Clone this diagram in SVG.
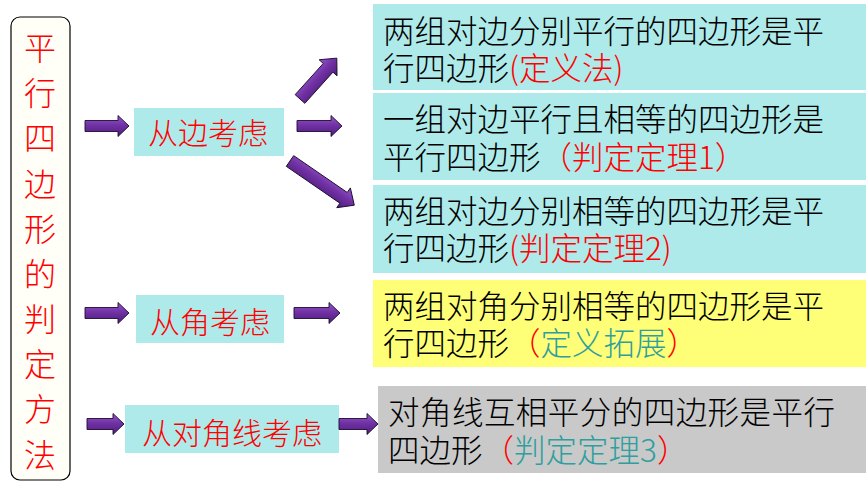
<svg xmlns="http://www.w3.org/2000/svg" width="866" height="494" viewBox="0 0 866 494">
<style>
  text { font-family: "Noto Sans CJK SC", "Noto Sans CJK JP", sans-serif; font-weight: 300; }
  .red { fill: #FF0000; }
  .teal { fill: #2E9E9E; }
  .side { font-size: 31.5px; fill: #000; }
  .side5 { font-size: 31.5px; fill: #000; }
  .lbl { font-size: 30px; fill: #FF0000; text-anchor: middle; }
  .title { font-size: 32px; fill: #FF0000; text-anchor: middle; }
  .cyan { fill: #AEEAEA; }
  .arrow { fill: url(#pg); stroke: #1e0b30; stroke-width: 0.9; }
</style>
<defs>
  <linearGradient id="pg" x1="0" y1="0" x2="0" y2="1">
    <stop offset="0" stop-color="#9358c8"/>
    <stop offset="0.45" stop-color="#7232a6"/>
    <stop offset="1" stop-color="#4c1c78"/>
  </linearGradient>
</defs>

<g id="title-box">
  <rect x="11" y="17" width="59" height="463" rx="9" fill="#FFFFF7" stroke="#000" stroke-width="1.2"/>
  <text class="title" x="40" y="60">平</text>
  <text class="title" x="40" y="105">行</text>
  <text class="title" x="40" y="150">四</text>
  <text class="title" x="40" y="196">边</text>
  <text class="title" x="40" y="241">形</text>
  <text class="title" x="40" y="286">的</text>
  <text class="title" x="40" y="331">判</text>
  <text class="title" x="40" y="376">定</text>
  <text class="title" x="40" y="421">方</text>
  <text class="title" x="40" y="467">法</text>
</g>

<g id="side-edge">
  <rect class="cyan" x="134" y="108" width="150" height="48"/>
  <text class="lbl" x="208" y="144">从边考虑</text>
</g>
<g id="side-angle">
  <rect class="cyan" x="136" y="295" width="148" height="48"/>
  <text class="lbl" x="210" y="333">从角考虑</text>
</g>
<g id="side-diag">
  <rect class="cyan" x="125" y="405" width="214" height="48"/>
  <text class="lbl" x="232" y="444">从对角线考虑</text>
</g>

<g id="rule-def">
  <rect class="cyan" x="373" y="4" width="493" height="86"/>
  <text class="side" x="383" y="43">两组对边分别平行的四边形是平</text>
  <text class="side" x="383" y="80">行四边形<tspan class="red">(定义法)</tspan></text>
</g>
<g id="rule-1">
  <rect class="cyan" x="373" y="93" width="493" height="87"/>
  <text class="side" x="383" y="131">一组对边平行且相等的四边形是</text>
  <text class="side" x="383" y="169">平行四边形<tspan class="red">（判定定理1）</tspan></text>
</g>
<g id="rule-2">
  <rect class="cyan" x="373" y="185" width="493" height="88"/>
  <text class="side" x="383" y="223">两组对边分别相等的四边形是平</text>
  <text class="side" x="383" y="260">行四边形<tspan class="red">(判定定理2)</tspan></text>
</g>
<g id="rule-angle">
  <rect x="373" y="280" width="493" height="87" fill="#FFFF77"/>
  <text class="side" x="383" y="318">两组对角分别相等的四边形是平</text>
  <text class="side" x="383" y="355">行四边形<tspan class="red">（</tspan><tspan class="teal">定义拓展</tspan><tspan class="red">）</tspan></text>
</g>
<g id="rule-3">
  <rect x="378" y="386" width="488" height="87" fill="#C9C9C9"/>
  <text class="side5" x="388" y="424" textLength="447">对角线互相平分的四边形是平行</text>
  <text class="side5" x="388" y="462">四边形<tspan class="red">（</tspan><tspan class="teal">判定定理3</tspan><tspan class="red">）</tspan></text>
</g>

<g id="connectors">
  <path class="arrow" transform="translate(85,126)" d="M0,-5.5 H33 V-10.5 L44,0 L33,10.5 V5.5 H0 Z"/>
  <path class="arrow" transform="translate(85,313)" d="M0,-5.5 H33 V-10.5 L44,0 L33,10.5 V5.5 H0 Z"/>
  <path class="arrow" transform="translate(87,424)" d="M0,-5.5 H26 V-10.5 L37,0 L26,10.5 V5.5 H0 Z"/>
  <path class="arrow" transform="translate(297,126)" d="M0,-5.5 H34 V-10.5 L45,0 L34,10.5 V5.5 H0 Z"/>
  <path class="arrow" transform="translate(294,313)" d="M0,-5.5 H35 V-10.5 L46,0 L35,10.5 V5.5 H0 Z"/>
  <path class="arrow" transform="translate(339,424)" d="M0,-5.5 H28 V-10.5 L39,0 L28,10.5 V5.5 H0 Z"/>
  <path class="arrow" transform="translate(300,99) rotate(-48)" d="M0,-6.5 H42 V-12 L55,0 L42,12 V6.5 H0 Z"/>
  <path class="arrow" transform="translate(290,161) rotate(34.5)" d="M0,-6.5 H65 V-12 L78,0 L65,12 V6.5 H0 Z"/>
</g>
</svg>
